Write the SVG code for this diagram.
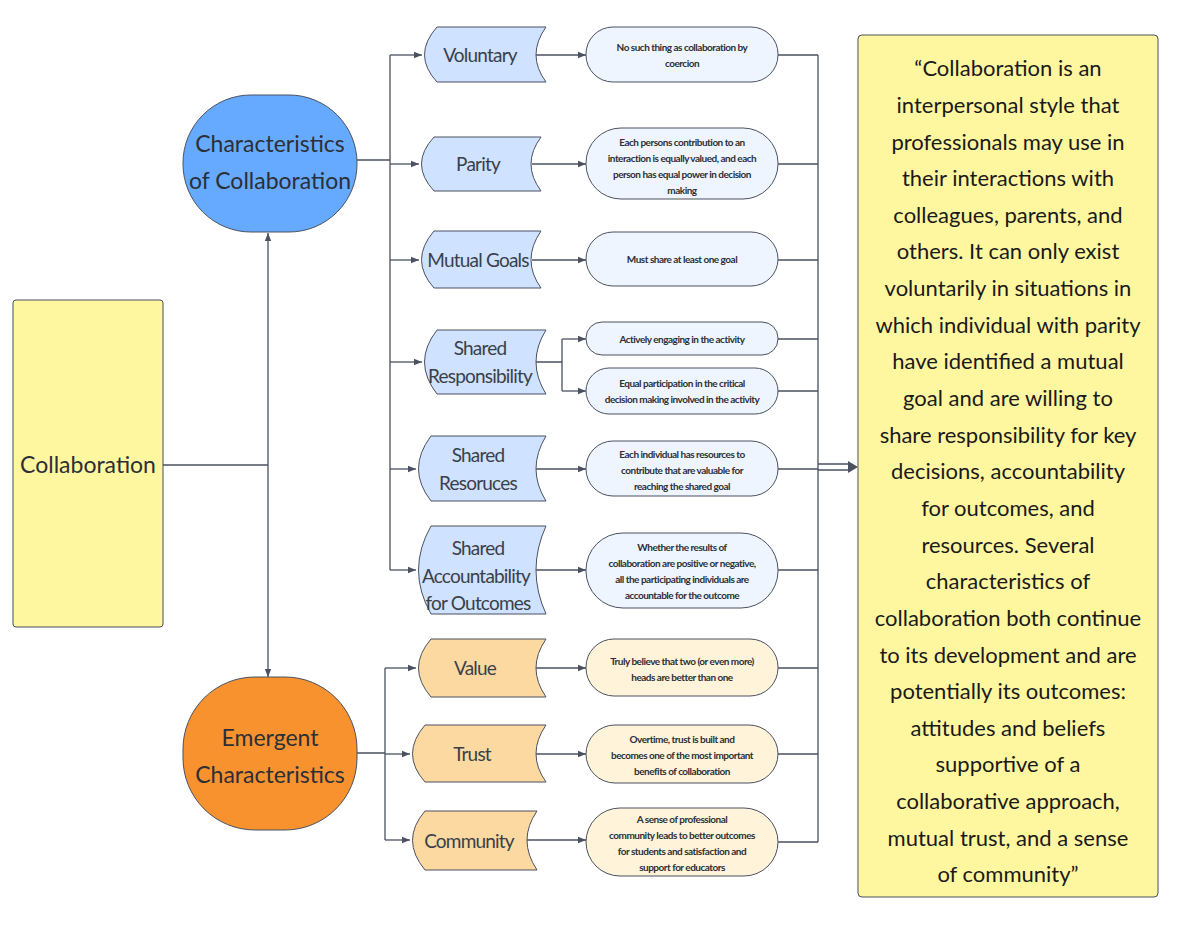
<svg xmlns="http://www.w3.org/2000/svg" width="1200" height="927" viewBox="0 0 1200 927">
<defs>
<marker id="ar" viewBox="0 0 10 10" refX="10" refY="5" markerWidth="8" markerHeight="8" markerUnits="userSpaceOnUse" orient="auto-start-reverse"><path d="M0,1 L10,5 L0,9 Z" fill="#4a5160"/></marker>
<style>
text{font-family:"Comic Sans MS","Lato","Liberation Sans",sans-serif;fill:#2c2f36;text-anchor:middle}
.c{fill:none;stroke:#4a5160;stroke-width:1.3}
.a{marker-end:url(#ar)}
.nb{fill:#cfe2ff;stroke:#4a5160;stroke-width:1}
.no{fill:#fcd9a0;stroke:#4a5160;stroke-width:1}
.eb{fill:#eef5ff;stroke:#4a5160;stroke-width:1}
.eo{fill:#fff3d9;stroke:#4a5160;stroke-width:1}
.t{font-size:19px;fill:#3a3f4a;letter-spacing:-0.8px}
.s{font-size:10px;font-weight:bold;letter-spacing:-0.5px}
.q{font-size:22px;fill:#1a1a1a}
</style>
</defs>
<g id="connectors">
<path class="c" d="M163,465 H268"/>
<path class="c a" d="M268,465 V233"/>
<path class="c a" d="M268,465 V677"/>
<path class="c" d="M357,160 H390 M390,55 V570 M385,668 V840 M357,753 H385"/>
<path class="c a" d="M390,55 H422"/>
<path class="c a" d="M390,164 H419"/>
<path class="c a" d="M390,260 H419"/>
<path class="c a" d="M390,362 H422"/>
<path class="c a" d="M390,469 H416"/>
<path class="c a" d="M390,570 H416"/>
<path class="c a" d="M385,668 H416"/>
<path class="c a" d="M385,754 H410"/>
<path class="c a" d="M385,840 H410"/>
<path class="c a" d="M535,55 H586"/>
<path class="c a" d="M532,164 H586"/>
<path class="c a" d="M532,260 H586"/>
<path class="c" d="M536,362 H562 M562,339 V391"/>
<path class="c a" d="M562,339 H586"/>
<path class="c a" d="M562,391 H586"/>
<path class="c a" d="M534,469 H586"/>
<path class="c a" d="M534,570 H586"/>
<path class="c a" d="M534,668 H586"/>
<path class="c a" d="M534,754 H586"/>
<path class="c a" d="M526,840 H586"/>
<path class="c" d="M778,55 H818 M778,164 H818 M778,260 H818 M778,339 H818 M778,391 H818 M778,469 H818 M778,570 H818 M778,668 H818 M778,754 H818 M778,842 H818 M818,55 V842"/>
<path class="c" d="M818,464 H850 M818,470 H850"/>
<path d="M848,461 L858,467 L848,473 Z" fill="#4a5160"/>
</g>
<g id="collaboration"><rect x="13" y="300" width="150" height="327" rx="3" fill="#fff7a0" stroke="#4a5160"/><text x="88" y="473" font-size="23" fill="#3a3f4a">Collaboration</text></g>
<g id="characteristics"><rect x="183" y="95" width="174" height="137" rx="68" fill="#66aaff" stroke="#4a5160"/><text x="270" y="152" font-size="23" fill="#2c3e66">Characteristics</text><text x="270" y="189" font-size="23" fill="#2c3e66">of Collaboration</text></g>
<g id="emergent"><rect x="183" y="677" width="174" height="153" rx="72" fill="#f7922f" stroke="#4a5160"/><text x="270" y="746" font-size="23" fill="#3a3040">Emergent</text><text x="270" y="783" font-size="23" fill="#3a3040">Characteristics</text></g>
<g id="voluntary"><path class="nb" d="M437,27 H546 Q526,55 546,82 H437 Q412,55 437,27 Z"/><text class="t" x="480" y="62">Voluntary</text></g>
<g id="parity"><path class="nb" d="M434,137 H541 Q521,164 541,191 H434 Q409,164 434,137 Z"/><text class="t" x="478" y="171">Parity</text></g>
<g id="mutual"><path class="nb" d="M434,231 H541 Q521,260 541,288 H434 Q409,260 434,231 Z"/><text class="t" x="478" y="267">Mutual Goals</text></g>
<g id="responsibility"><path class="nb" d="M437,330 H546 Q526,362 546,394 H437 Q412,362 437,330 Z"/><text class="t" x="480" y="355">Shared</text><text class="t" x="480" y="383">Responsibility</text></g>
<g id="resources"><path class="nb" d="M431,436 H546 Q526,469 546,501 H431 Q406,469 431,436 Z"/><text class="t" x="478" y="462">Shared</text><text class="t" x="478" y="490">Resoruces</text></g>
<g id="accountability"><path class="nb" d="M431,526 H546 Q526,570 546,614 H431 Q406,570 431,526 Z"/><text class="t" x="478" y="555">Shared</text><text class="t" x="476" y="583">Accountability</text><text class="t" x="478" y="610">for Outcomes</text></g>
<g id="value"><path class="no" d="M431,639 H546 Q526,668 546,697 H431 Q406,668 431,639 Z"/><text class="t" x="475" y="675">Value</text></g>
<g id="trust"><path class="no" d="M425,725 H546 Q526,754 546,782 H425 Q400,754 425,725 Z"/><text class="t" x="472" y="761">Trust</text></g>
<g id="community"><path class="no" d="M425,811 H537 Q517,840 537,870 H425 Q400,840 425,811 Z"/><text class="t" x="469" y="848">Community</text></g>
<g id="d1"><rect class="eb" x="586" y="27" width="192" height="55" rx="27"/><text class="s" x="682" y="51">No such thing as collaboration by</text><text class="s" x="682" y="67">coercion</text></g>
<g id="d2"><rect class="eb" x="586" y="128" width="192" height="71" rx="35"/><text class="s" x="682" y="146">Each persons contribution to an</text><text class="s" x="682" y="162">interaction is equally valued, and each</text><text class="s" x="682" y="178">person has equal power in decision</text><text class="s" x="682" y="194">making</text></g>
<g id="d3"><rect class="eb" x="586" y="232" width="192" height="54" rx="27"/><text class="s" x="682" y="263">Must share at least one goal</text></g>
<g id="d4"><rect class="eb" x="586" y="322" width="192" height="33" rx="16"/><text class="s" x="682" y="343">Actively engaging in the activity</text></g>
<g id="d5"><rect class="eb" x="586" y="368" width="192" height="46" rx="23"/><text class="s" x="682" y="387">Equal participation in the critical</text><text class="s" x="682" y="403">decision making involved in the activity</text></g>
<g id="d6"><rect class="eb" x="586" y="441" width="192" height="55" rx="27"/><text class="s" x="682" y="458">Each individual has resources to</text><text class="s" x="682" y="474">contribute that are valuable for</text><text class="s" x="682" y="490">reaching the shared goal</text></g>
<g id="d7"><rect class="eb" x="586" y="533" width="192" height="75" rx="37"/><text class="s" x="682" y="551">Whether the results of</text><text class="s" x="682" y="567">collaboration are positive or negative,</text><text class="s" x="682" y="583">all the participating individuals are</text><text class="s" x="682" y="599">accountable for the outcome</text></g>
<g id="d8"><rect class="eo" x="586" y="639" width="192" height="57" rx="28"/><text class="s" x="682" y="665">Truly believe that two (or even more)</text><text class="s" x="682" y="681">heads are better than one</text></g>
<g id="d9"><rect class="eo" x="586" y="725" width="192" height="58" rx="29"/><text class="s" x="682" y="743">Overtime, trust is built and</text><text class="s" x="682" y="759">becomes one of the most important</text><text class="s" x="682" y="775">benefits of collaboration</text></g>
<g id="d10"><rect class="eo" x="586" y="808" width="192" height="68" rx="34"/><text class="s" x="682" y="823">A sense of professional</text><text class="s" x="682" y="839">community leads to better outcomes</text><text class="s" x="682" y="855">for students and satisfaction and</text><text class="s" x="682" y="871">support for educators</text></g>
<g id="quote"><rect x="858" y="35" width="300" height="862" rx="4" fill="#fff7a0" stroke="#4a5160"/>
<text class="q" x="1008" y="76">“Collaboration is an</text>
<text class="q" x="1008" y="113">interpersonal style that</text>
<text class="q" x="1008" y="150">professionals may use in</text>
<text class="q" x="1008" y="186">their interactions with</text>
<text class="q" x="1008" y="223">colleagues, parents, and</text>
<text class="q" x="1008" y="259">others. It can only exist</text>
<text class="q" x="1008" y="296">voluntarily in situations in</text>
<text class="q" x="1008" y="333">which individual with parity</text>
<text class="q" x="1008" y="369">have identified a mutual</text>
<text class="q" x="1008" y="406">goal and are willing to</text>
<text class="q" x="1008" y="443">share responsibility for key</text>
<text class="q" x="1008" y="479">decisions, accountability</text>
<text class="q" x="1008" y="516">for outcomes, and</text>
<text class="q" x="1008" y="553">resources. Several</text>
<text class="q" x="1008" y="589">characteristics of</text>
<text class="q" x="1008" y="626">collaboration both continue</text>
<text class="q" x="1008" y="663">to its development and are</text>
<text class="q" x="1008" y="699">potentially its outcomes:</text>
<text class="q" x="1008" y="736">attitudes and beliefs</text>
<text class="q" x="1008" y="772">supportive of a</text>
<text class="q" x="1008" y="809">collaborative approach,</text>
<text class="q" x="1008" y="846">mutual trust, and a sense</text>
<text class="q" x="1008" y="882">of community”</text>
</g>
</svg>
